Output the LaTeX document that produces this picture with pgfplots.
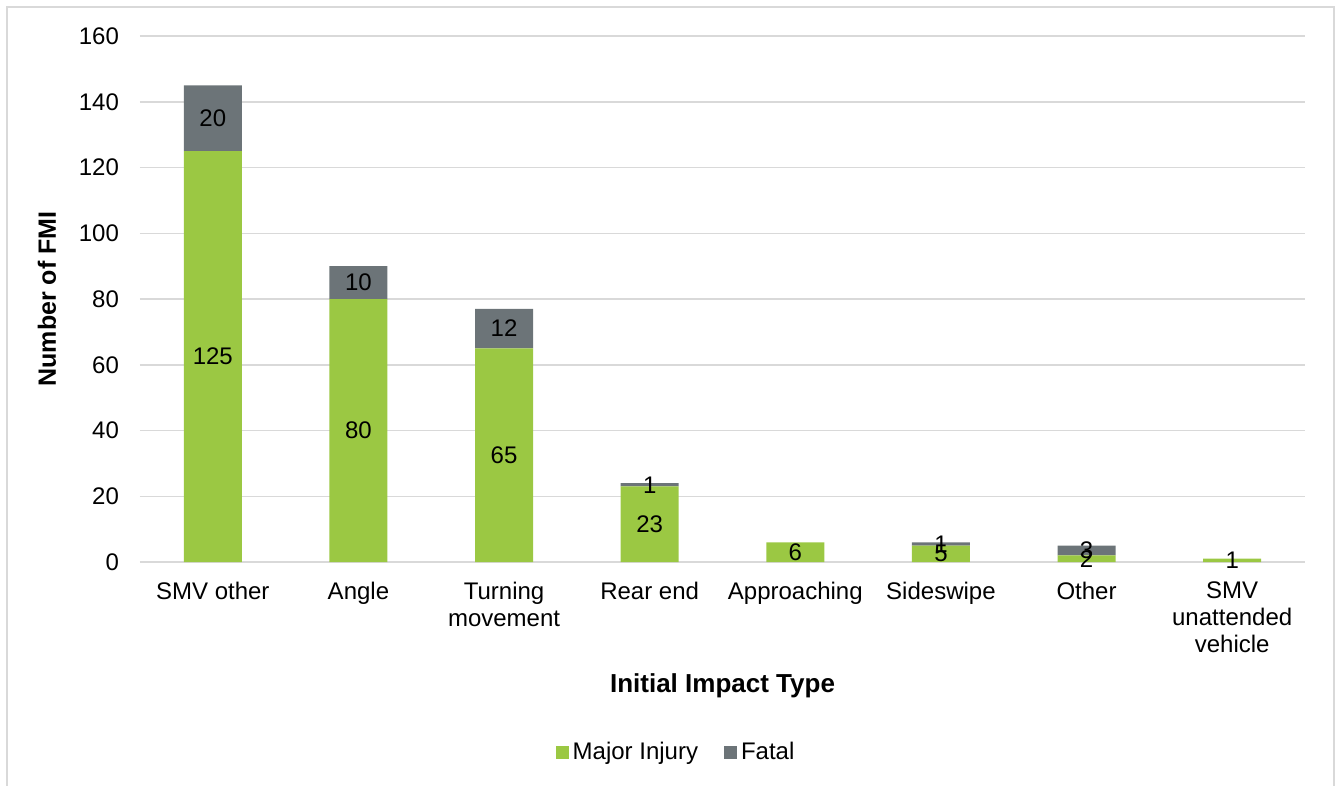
\documentclass[border=0pt]{standalone}
\usepackage{pgfplots}
\pgfplotsset{compat=1.18}
\usepackage{fontspec}
\setmainfont{Liberation Sans}
\definecolor{injury}{RGB}{155,200,67}
\definecolor{fatal}{RGB}{108,116,120}
\definecolor{gridc}{RGB}{217,217,217}
\begin{document}
\begin{tikzpicture}
\useasboundingbox (0,0) rectangle (670.5pt,-393pt);
% outer chart frame
\draw[gridc, line width=0.75pt] (3.5pt,-393pt) -- (3.5pt,-3.5pt) -- (667pt,-3.5pt) -- (667pt,-393pt);
\begin{axis}[
  at={(70pt,-281pt)}, anchor=south west,
  scale only axis, width=582.5pt, height=263pt,
  ybar stacked, bar width=29pt,
  xmin=-0.5, xmax=7.5, ymin=0, ymax=160,
  ytick={0,20,...,160},
  xtick={0,...,7},
  xticklabels={SMV other, Angle, Turning\\movement, Rear end, Approaching, Sideswipe, Other, SMV\\unattended\\vehicle},
  xticklabel style={align=center, font=\fontsize{12}{13.5}\selectfont, yshift=-6.5pt},
  yticklabel style={font=\fontsize{12}{13.5}\selectfont, xshift=-7pt},
  /pgf/number format/assume math mode=true,
  axis line style={draw=none},
  major tick length=0pt,
  ymajorgrids, major grid style={gridc, line width=0.75pt},
  xlabel={Initial Impact Type},
  ylabel={Number of FMI},
  xlabel style={font=\fontsize{13}{15}\selectfont\bfseries, at={(axis description cs:0.5,-0.236)}, anchor=center},
  ylabel style={font=\fontsize{12.5}{15}\selectfont\bfseries, at={(axis description cs:-0.0798,0.5)}, anchor=center},
  point meta=explicit symbolic,
  nodes near coords,
  every node near coord/.append style={anchor=center, text=black,
    font=\fontsize{12}{13.5}\selectfont},
  legend style={at={(rel axis cs:0.461,-0.362)}, anchor=center, draw=none,
    font=\fontsize{12}{13.5}\selectfont, legend columns=2,
    /tikz/every even column/.append style={column sep=11pt}},
  legend image code/.code={\draw[#1, draw=none] (0pt,-3.25pt) rectangle (6.5pt,3.25pt);},
]
\addplot[fill=injury, draw=none] coordinates {
  (0,125) [125] (1,80) [80] (2,65) [65] (3,23) [23]
  (4,6) [6] (5,5) [5] (6,2) [2] (7,1) [1]};
\addplot[fill=fatal, draw=none] coordinates {
  (0,20) [20] (1,10) [10] (2,12) [12] (3,1) [1]
  (4,0) [] (5,1) [1] (6,3) [3] (7,0) []};
\legend{Major Injury, Fatal}
\end{axis}
\end{tikzpicture}
\end{document}
